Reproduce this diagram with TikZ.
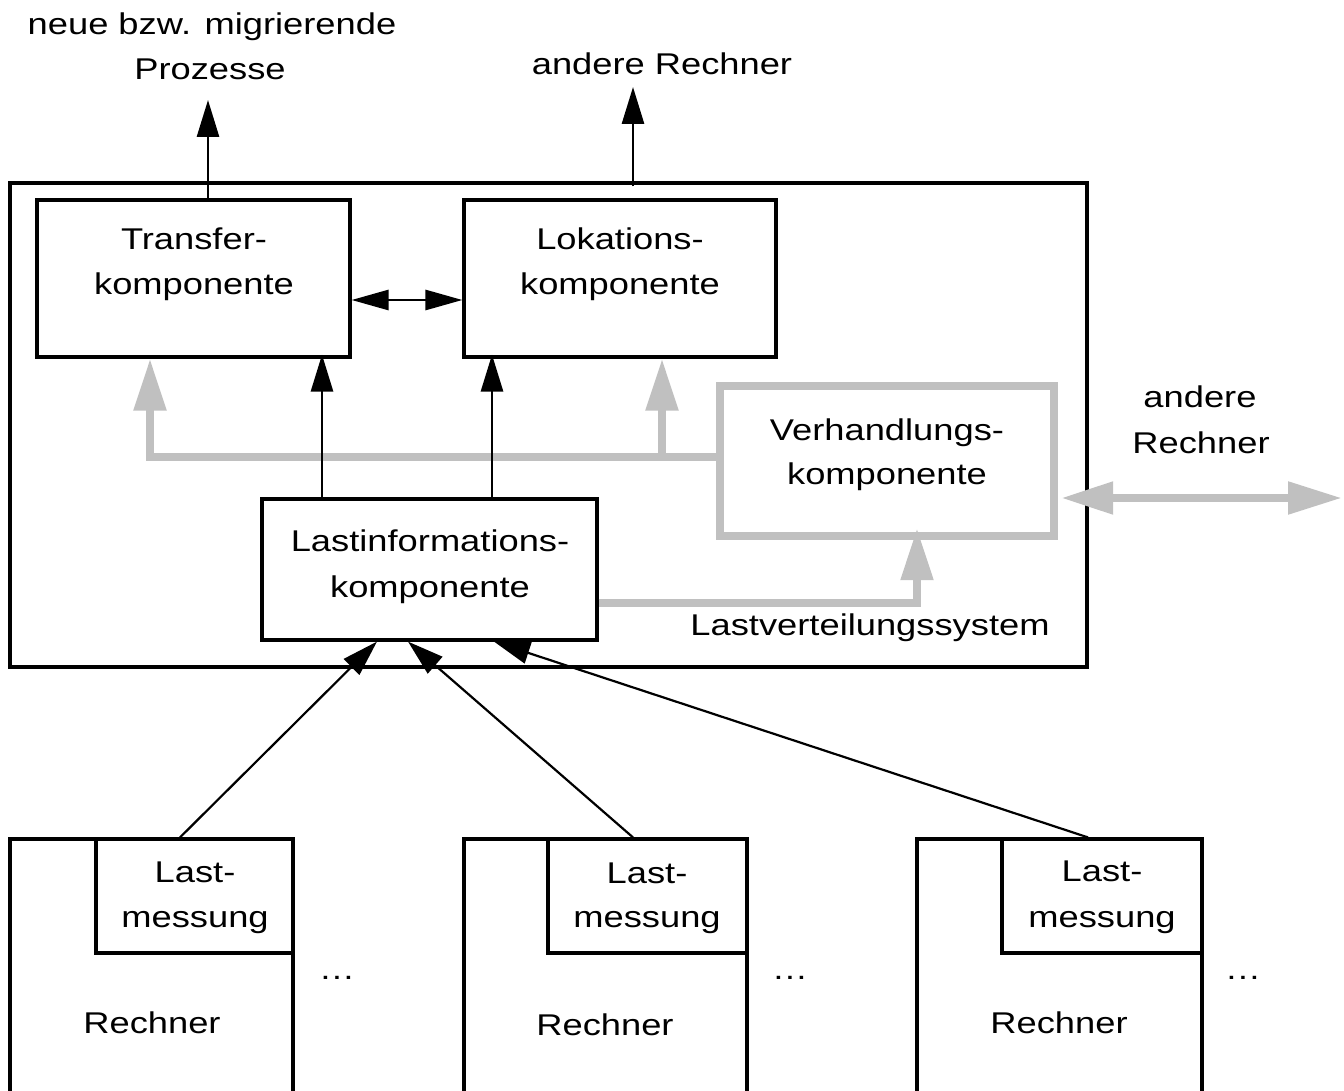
\documentclass[tikz,border=0pt]{standalone}
\usepackage{fontspec}
\setmainfont{Liberation Sans}[FakeStretch=1.21]
\usetikzlibrary{arrows.meta,fit,calc}
\definecolor{lgray}{RGB}{192,192,192}

\begin{document}
\begin{tikzpicture}[x=0.5pt,y=-0.5pt,
  font=\fontsize{15pt}{22pt}\selectfont,
  box/.style={draw=black,line width=1.6pt,inner sep=0pt},
  gbox/.style={draw=lgray,line width=4.2pt,inner sep=0pt},
  txt/.style={anchor=base,inner sep=0pt},
  arr/.style={line width=1.4pt,-{Triangle[length=18.5pt,width=11pt]}},
  darr/.style={line width=1.4pt,{Triangle[length=18.5pt,width=10pt]}-{Triangle[length=18.5pt,width=10pt]}},
  thinarr/.style={line width=1.1pt,-{Triangle[length=18pt,width=11pt]}},
  garr/.style={draw=lgray,line width=4.2pt,-{Triangle[length=26pt,width=15.5pt]}},
  gdarr/.style={draw=lgray,line width=4.2pt,{Triangle[length=26pt,width=15.5pt]}-{Triangle[length=27pt,width=15.5pt]}},
]
\useasboundingbox (0,0) rectangle (1344,1091);

% outer frame: load balancing system
\node[box,fit={(10,183) (1087,667)}] (sys) {};

% components
\node[box,fit={(37,200) (350,357)}] (tr) {};
\node[box,fit={(464,200) (776,357)}] (lo) {};
\node[box,fit={(262,499) (597,640)}] (li) {};
\node[gbox,fit={(720,386) (1054,536)}] (vh) {};

\node[txt] (tra) at (194,250) {Transfer-};
\node[txt] (trb) at (194,294) {komponente};
\node[txt] (loa) at (620,250) {Lokations-};
\node[txt] (lob) at (620,294) {komponente};
\node[txt] (lia) at (430,551) {Lastinformations-};
\node[txt] (lib) at (430,597) {komponente};
\node[txt] (vha) at (887,440) {Verhandlungs-};
\node[txt] (vhb) at (887,484) {komponente};
\node[txt] (lvs) at (870,635) {Lastverteilungssystem};

% labels outside the frame
\node[txt] (npa) at (212,35) {neue bzw. migrierende};
\node[txt] (npb) at (210,80) {Prozesse};
\node[txt] (arl) at (662,75) {andere Rechner};
\node[txt] (ara) at (1200,407) {andere};
\node[txt] (arb) at (1201,453) {Rechner};

% computers with load measurement
\draw[line width=1.6pt] (10,1091) -- (10,839) -- (293,839) -- (293,1091);
\draw[line width=1.6pt] (464,1091) -- (464,839) -- (747,839) -- (747,1091);
\draw[line width=1.6pt] (917,1091) -- (917,839) -- (1202,839) -- (1202,1091);
\node[box,fit={(96,839) (293,953)}] (lm1) {};
\node[box,fit={(548,839) (747,953)}] (lm2) {};
\node[box,fit={(1002,839) (1202,953)}] (lm3) {};

\node[txt] (lm1a) at (195,882) {Last-};
\node[txt] (lm1b) at (195,927) {messung};
\node[txt] (lm2a) at (647,883) {Last-};
\node[txt] (lm2b) at (647,927) {messung};
\node[txt] (lm3a) at (1102,881) {Last-};
\node[txt] (lm3b) at (1102,927) {messung};
\node[txt] (rc1) at (152,1033) {Rechner};
\node[txt] (rc2) at (605,1035) {Rechner};
\node[txt] (rc3) at (1059,1033) {Rechner};
\node[txt] (dt1) at (337,979) {…};
\node[txt] (dt2) at (790,979) {…};
\node[txt] (dt3) at (1243,979) {…};

% helper coordinates for connector positions
\coordinate (tup) at (208,100);
\coordinate (loup) at (633,87);
\coordinate (mid) at (400,300);
\coordinate (xa) at (322,0);
\coordinate (xb) at (492,0);
\coordinate (gxa) at (150,0);
\coordinate (gxb) at (662,0);
\coordinate (gy) at (0,457);
\coordinate (gz) at (917,603);
\coordinate (ga) at (0,498);
\coordinate (gb) at (1342,498);
\coordinate (c1) at (180,0);
\coordinate (c2) at (633,0);
\coordinate (c3) at (1088,0);
\coordinate (d1) at (377,0);
\coordinate (d2) at (408,0);
\coordinate (d3) at (494,0);

% grey connectors (negotiation)
\draw[garr] (vh.west |- gy) -| (tr.south -| gxa);
\draw[garr] (gxb |- gy) -- (lo.south -| gxb);
\draw[garr,shorten >=-6pt] (li.east |- gz) -| (vh.south -| gz);
\draw[gdarr] ([xshift=1.5pt]vh.east |- ga) -- (gb);

% black connectors
\draw[arr] (tup |- tr.north) -- (tup);
\draw[arr] ($(loup |- sys.north)+(0,5)$) -- (loup);
\draw[darr] (tr.east |- mid) -- (lo.west |- mid);
\draw[arr,shorten >=-2pt] (li.north -| xa) -- (tr.south -| xa);
\draw[arr,shorten >=-2pt] (li.north -| xb) -- (lo.south -| xb);

\draw[thinarr] (lm1.north -| c1) -- (li.south -| d1);
\draw[thinarr] (lm2.north -| c2) -- (li.south -| d2);
\draw[thinarr] (lm3.north -| c3) -- (li.south -| d3);
\end{tikzpicture}
\end{document}
